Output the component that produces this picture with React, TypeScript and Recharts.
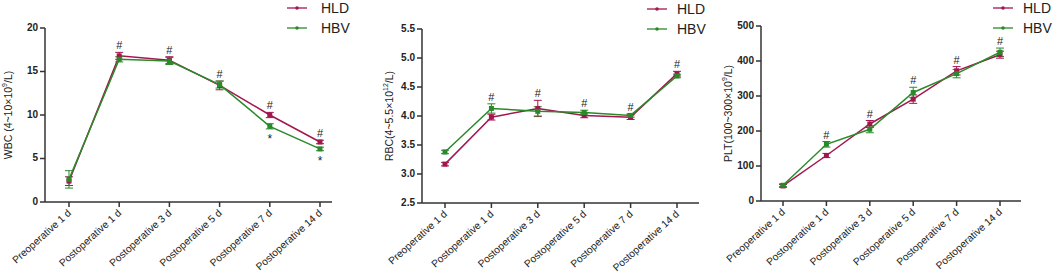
import React from "react";
import { LineChart, Line, XAxis, YAxis, ErrorBar, LabelList, Legend, Label } from "recharts";

const categories = [
  "Preoperative 1 d",
  "Postoperative 1 d",
  "Postoperative 3 d",
  "Postoperative 5 d",
  "Postoperative 7 d",
  "Postoperative 14 d",
];

const wbcHLD = [2.4, 16.8, 16.3, 13.4, 10.0, 6.9];
const wbcHLDErr = [0.5, 0.4, 0.4, 0.5, 0.3, 0.2];
const wbcHBV = [2.6, 16.4, 16.2, 13.5, 8.7, 6.1];
const wbcHBVErr = [1.0, 0.3, 0.4, 0.4, 0.3, 0.2];
const wbcHash = ["", "#", "#", "#", "#", "#"];
const wbcStar = ["", "", "", "", "*", "*"];
const wbcTicks = [0, 5, 10, 15, 20];

const rbcHLD = [3.17, 3.98, 4.13, 4.01, 3.98, 4.73];
const rbcHLDErr = [0.03, 0.05, 0.14, 0.04, 0.04, 0.04];
const rbcHBV = [3.38, 4.13, 4.08, 4.06, 4.01, 4.69];
const rbcHBVErr = [0.03, 0.08, 0.08, 0.04, 0.03, 0.03];
const rbcHash = ["", "#", "#", "#", "#", "#"];
const rbcStar = ["", "", "", "", "", ""];
const rbcTicks = [2.5, 3.0, 3.5, 4.0, 4.5, 5.0, 5.5];

const pltHLD = [43, 130, 220, 291, 372, 418];
const pltHLDErr = [4, 6, 10, 12, 12, 10];
const pltHBV = [45, 162, 205, 310, 364, 425];
const pltHBVErr = [4, 8, 10, 15, 12, 12];
const pltHash = ["", "#", "#", "#", "#", "#"];
const pltStar = ["", "", "", "", "", ""];
const pltTicks = [0, 100, 200, 300, 400, 500];

const seriesOrder = ["HLD", "HBV"];

const HLD_COLOR = "#A3174F";
const HBV_COLOR = "#2A8A2A";
const TEXT = "#222";
const FONT = "'Liberation Sans', Arial, sans-serif";

function build(hld: number[], hldErr: number[], hbv: number[], hbvErr: number[], hash: string[], star: string[]) {
  return categories.map((c, i) => ({
    cat: c,
    hld: hld[i],
    hldErr: hldErr[i],
    hbv: hbv[i],
    hbvErr: hbvErr[i],
    top: Math.max(hld[i] + hldErr[i], hbv[i] + hbvErr[i]),
    bottom: hbv[i] - hbvErr[i],
    hash: hash[i],
    star: star[i],
  }));
}

const SquareDot = (color: string) => (props: any) => {
  const { cx, cy } = props;
  if (cx == null || cy == null) return <g />;
  return <rect x={cx - 2.5} y={cy - 2.5} width={5} height={5} fill={color} />;
};

const AngledTick = (props: any) => {
  const { x, y, payload } = props;
  const ax = x + 1;
  const ay = y + 3;
  return (
    <text
      x={ax}
      y={ay}
      transform={`rotate(-42 ${ax} ${ay})`}
      textAnchor="end"
      fontSize={10.2}
      fill={TEXT}
      fontFamily={FONT}
      dominantBaseline="middle"
    >
      {payload.value}
    </text>
  );
};

const makeYTick = (decimals: number) => (props: any) => {
  const { x, y, payload } = props;
  const v = Number(payload.value);
  return (
    <text
      x={x}
      y={y}
      textAnchor="end"
      dominantBaseline="middle"
      fontSize={10}
      fontWeight="bold"
      fill={TEXT}
      fontFamily={FONT}
    >
      {v.toFixed(decimals)}
    </text>
  );
};

const HashLabel = (props: any) => {
  const { x, y, value } = props;
  if (!value) return null;
  return (
    <text x={x} y={y - 3} textAnchor="middle" fontSize={11} fill={TEXT} fontFamily={FONT}>
      {value}
    </text>
  );
};

const StarLabel = (props: any) => {
  const { x, y, value } = props;
  if (!value) return null;
  return (
    <text x={x} y={y + 14} textAnchor="middle" fontSize={12} fill={TEXT} fontFamily={FONT}>
      {value}
    </text>
  );
};

const makeLegend = (iconWidth: number) => (props: any) => {
  const items = (props.payload || [])
    .filter((p: any) => seriesOrder.includes(p.value))
    .sort((a: any, b: any) => seriesOrder.indexOf(a.value) - seriesOrder.indexOf(b.value));
  return (
    <div style={{ fontFamily: FONT }}>
      {items.map((p: any) => (
        <div key={p.value} style={{ display: "flex", alignItems: "center", height: 20, whiteSpace: "nowrap" }}>
          <svg width={iconWidth} height={10} style={{ flex: "none" }}>
            <line x1={0} y1={5} x2={20} y2={5} stroke={p.color} strokeWidth={1.3} />
            <circle cx={10} cy={5} r={1.8} fill={p.color} />
          </svg>
          <span style={{ fontSize: 14, color: TEXT, lineHeight: "20px" }}>{p.value}</span>
        </div>
      ))}
    </div>
  );
};

type PanelProps = {
  left: number;
  width: number;
  data: any[];
  domain: [number, number];
  ticks: number[];
  decimals: number;
  ylabel: React.ReactNode;
  marginLeft: number;
  yAxisWidth: number;
  marginTop: number;
  marginRight: number;
  xAxisHeight: number;
  padLeft: number;
  padRight: number;
  labelX: number;
  legendLeft: number;
  legendTop: number;
  legendIconWidth: number;
};

function Panel(p: PanelProps) {
  const LegendContent = makeLegend(p.legendIconWidth);
  const YTick = makeYTick(p.decimals);
  return (
    <div style={{ position: "absolute", left: p.left, top: 0 }}>
      <LineChart
        width={p.width}
        height={273}
        data={p.data}
        margin={{ top: p.marginTop, right: p.marginRight, bottom: 0, left: p.marginLeft }}
        style={{ overflow: "visible" }}
      >
        <XAxis
          dataKey="cat"
          height={p.xAxisHeight}
          interval={0}
          tick={<AngledTick />}
          tickSize={5}
          tickMargin={2}
          stroke="#333"
          strokeWidth={1.5}
          padding={{ left: p.padLeft, right: p.padRight }}
        />
        <YAxis
          domain={p.domain}
          ticks={p.ticks}
          width={p.yAxisWidth}
          interval={0}
          stroke="#333"
          strokeWidth={1.5}
          tickSize={5}
          tickMargin={2}
          tick={<YTick />}
          allowDataOverflow
        >
          <Label
            content={(lp: any) => {
              const vb = lp.viewBox || {};
              const cx = p.labelX;
              const cy = (vb.y ?? 0) + (vb.height ?? 0) / 2;
              return (
                <text
                  x={cx}
                  y={cy}
                  transform={`rotate(-90 ${cx} ${cy})`}
                  textAnchor="middle"
                  dominantBaseline="middle"
                  fontSize={10.5}
                  fill={TEXT}
                  fontFamily={FONT}
                >
                  {p.ylabel}
                </text>
              );
            }}
          />
        </YAxis>
        <Legend
          layout="vertical"
          align="center"
          verticalAlign="middle"
          content={<LegendContent />}
          wrapperStyle={{ position: "absolute", left: p.legendLeft, top: p.legendTop, width: "auto", height: "auto" }}
        />
        <Line
          dataKey="hld"
          name="HLD"
          stroke={HLD_COLOR}
          strokeWidth={1.5}
          dot={SquareDot(HLD_COLOR)}
          activeDot={false}
          isAnimationActive={false}
        >
          <ErrorBar dataKey="hldErr" width={4} stroke={HLD_COLOR} strokeWidth={1} />
        </Line>
        <Line
          dataKey="hbv"
          name="HBV"
          stroke={HBV_COLOR}
          strokeWidth={1.5}
          dot={SquareDot(HBV_COLOR)}
          activeDot={false}
          isAnimationActive={false}
        >
          <ErrorBar dataKey="hbvErr" width={4} stroke={HBV_COLOR} strokeWidth={1} />
        </Line>
        <Line
          dataKey="top"
          name="top"
          stroke="none"
          dot={false}
          activeDot={false}
          legendType="none"
          isAnimationActive={false}
        >
          <LabelList dataKey="hash" content={<HashLabel />} />
        </Line>
        <Line
          dataKey="bottom"
          name="bottom"
          stroke="none"
          dot={false}
          activeDot={false}
          legendType="none"
          isAnimationActive={false}
        >
          <LabelList dataKey="star" content={<StarLabel />} />
        </Line>
      </LineChart>
    </div>
  );
}

export default function App() {
  const wbc = build(wbcHLD, wbcHLDErr, wbcHBV, wbcHBVErr, wbcHash, wbcStar);
  const rbc = build(rbcHLD, rbcHLDErr, rbcHBV, rbcHBVErr, rbcHash, rbcStar);
  const plt = build(pltHLD, pltHLDErr, pltHBV, pltHBVErr, pltHash, pltStar);
  return (
    <div style={{ position: "absolute", left: 0, top: 0, width: 1052, height: 273, background: "#fff", overflow: "hidden" }}>
      <Panel
        left={0}
        width={350}
        data={wbc}
        domain={[0, 20]}
        ticks={wbcTicks}
        decimals={0}
        ylabel={<>WBC (4~10×10<tspan dy={-4} fontSize={7}>9</tspan><tspan dy={4}>/L)</tspan></>}
        marginLeft={0}
        yAxisWidth={45}
        marginTop={28}
        marginRight={18}
        xAxisHeight={71}
        padLeft={24}
        padRight={12}
        labelX={9}
        legendLeft={287}
        legendTop={-2}
        legendIconWidth={34}
      />
      <Panel
        left={350}
        width={350}
        data={rbc}
        domain={[2.5, 5.5]}
        ticks={rbcTicks}
        decimals={1}
        ylabel={<>RBC(4~5.5×10<tspan dy={-4} fontSize={7}>12</tspan><tspan dy={4}>/L)</tspan></>}
        marginLeft={20}
        yAxisWidth={52}
        marginTop={29}
        marginRight={1}
        xAxisHeight={70}
        padLeft={23}
        padRight={22}
        labelX={40}
        legendLeft={297}
        legendTop={-1}
        legendIconWidth={30}
      />
      <Panel
        left={700}
        width={352}
        data={plt}
        domain={[0, 500]}
        ticks={pltTicks}
        decimals={0}
        ylabel={<>PLT(100~300×10<tspan dy={-4} fontSize={7}>9</tspan><tspan dy={4}>/L)</tspan></>}
        marginLeft={10}
        yAxisWidth={51}
        marginTop={26}
        marginRight={31}
        xAxisHeight={72}
        padLeft={22}
        padRight={21}
        labelX={29}
        legendLeft={293}
        legendTop={-2}
        legendIconWidth={30}
      />
    </div>
  );
}
